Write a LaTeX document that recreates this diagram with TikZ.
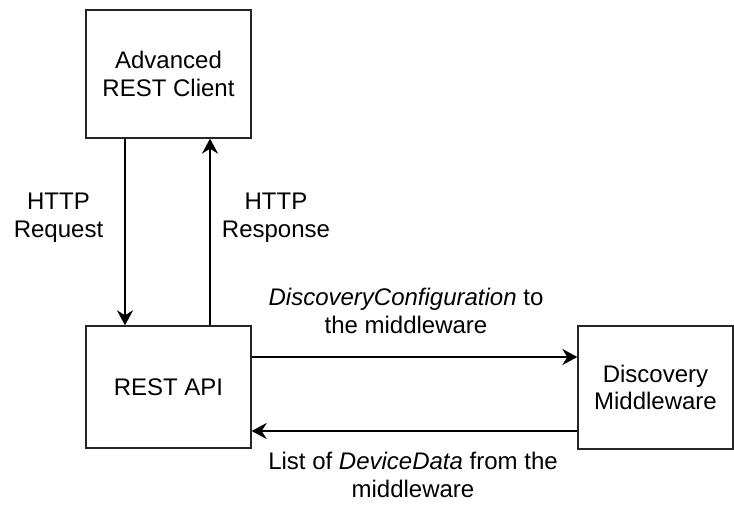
\documentclass[tikz,border=0pt]{standalone}
\usepackage{fontspec}
\setmainfont{Liberation Sans}
\usetikzlibrary{arrows.meta}
\begin{document}
\begin{tikzpicture}[x=1pt,y=-1pt,
  every node/.style={font=\fontsize{24}{27.5}\selectfont},
  block/.style={draw=black!85, line width=1.3pt, inner sep=0pt, align=center},
  flow/.style={line width=2.5pt, -{Stealth[length=15pt,width=16pt,inset=5pt]}},
  lbl/.style={align=center, inner sep=0pt, anchor=base}]
\useasboundingbox (0,0) rectangle (734,504);

% components
\node[block, minimum width=165pt, minimum height=128pt] (client) at (168.5,74) {Advanced\\REST Client};
\node[block, minimum width=165pt, minimum height=122pt] (api) at (168.5,387) {REST API};
\node[block, minimum width=155pt, minimum height=123pt] (mw) at (655.5,387.5) {Discovery\\Middleware};

% connector columns and rows
\coordinate (reqx) at (125,0);
\coordinate (resx) at (210,0);
\coordinate (cfgy) at (0,357);
\coordinate (datay) at (0,431);

% request / response between client and API
\draw[flow] (client.south -| reqx) -- (api.north -| reqx);
\draw[flow] (api.north -| resx) -- (client.south -| resx);

% configuration out, device data back
\draw[flow] (api.east |- cfgy) -- (mw.west |- cfgy);
\draw[flow] (mw.west |- datay) -- (api.east |- datay);

% connector labels (anchored at the baseline of their last line)
\node[lbl] (lreq) at (58.5,237) {HTTP\\Request};
\node[lbl] (lres) at (276,237) {HTTP\\Response};
\node[lbl] (lcfg) at (406,333) {\textit{DiscoveryConfiguration} to\\the middleware};
\node[lbl] (ldata) at (413,497) {List of \textit{DeviceData} from the\\middleware};
\end{tikzpicture}
\end{document}
